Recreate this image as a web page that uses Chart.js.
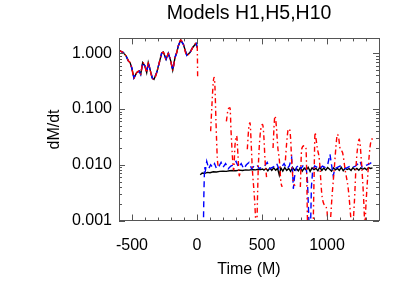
<!DOCTYPE html>
<html>
<head>
<meta charset="utf-8">
<script src="https://cdn.jsdelivr.net/npm/chart.js@4.4.1/dist/chart.umd.min.js"></script>
<style>
  html, body { margin: 0; padding: 0; background: #fff; }
</style>
</head>
<body>
<canvas id="dmdt" width="415" height="297"></canvas>
<script>
// before merger the three models overlap
const preTime = [-600, -585, -567, -546, -528, -515, -502, -485, -464, -444,
    -433, -418, -400, -387, -375, -362, -344, -331, -310, -290,
    -272, -259, -238, -221, -202, -187, -169, -156, -144, -125,
    -105, -79, -54, -33, -8, 2];
const preRate = [1.15, 1.08, 1.03, 0.9, 0.73, 0.68, 0.55, 0.36, 0.45, 0.48,
    0.42, 0.68, 0.59, 0.45, 0.68, 0.52, 0.36, 0.34, 0.45, 0.68,
    1.0, 1.05, 0.78, 1.0, 0.73, 0.5, 0.84, 1.03, 1.35, 1.73,
    1.45, 0.92, 1.03, 1.27, 1.5, 1.27];

// black, solid
const h1Time = [10, 25, 40, 60, 80, 100, 125, 150, 175, 200,
    225, 250, 275, 300, 325, 350, 375, 400, 425, 450,
    470, 490, 505, 515, 530, 545, 560, 575, 590, 605,
    620, 633, 645, 660, 675, 690, 705, 720, 735, 750,
    765, 780, 795, 810, 825, 840, 855, 870, 885, 900,
    915, 930, 945, 960, 975, 990, 1005, 1020, 1035, 1050,
    1065, 1080, 1095, 1110, 1125, 1140, 1155, 1170, 1185, 1200,
    1215, 1230, 1245, 1260, 1275, 1290, 1305, 1320, 1335, 1350];
const h1Rate = [null, 0.0066, 0.0071, 0.0070, 0.0073, 0.0072, 0.0075, 0.0074, 0.0076, 0.0077,
    0.0076, 0.0078, 0.0079, 0.0078, 0.0080, 0.0079, 0.0081, 0.0080, 0.0082, 0.0081,
    0.0083, 0.0082, 0.0084, 0.0080, 0.0086, 0.0078, 0.0087, 0.0079, 0.0088, 0.0080,
    0.0086, 0.0065, 0.0088, 0.0077, 0.0089, 0.0079, 0.0086, 0.0076, 0.0090, 0.0080,
    0.0085, 0.0078, 0.0089, 0.0077, 0.0087, 0.0081, 0.0090, 0.0076, 0.0088, 0.0082,
    0.0086, 0.0078, 0.0091, 0.0079, 0.0087, 0.0080, 0.0089, 0.0083, 0.0077, 0.0088,
    0.0081, 0.0086, 0.0079, 0.0090, 0.0078, 0.0087, 0.0082, 0.0085, 0.0079, 0.0089,
    0.0081, 0.0086, 0.0080, 0.0088, 0.0083, 0.0087, 0.0081, 0.0089, 0.0086, 0.0088];

// blue, dashed
const h5Time = [20, 48, 53, 58, 65, 75, 90, 105, 120, 135,
    150, 170, 185, 200, 220, 240, 260, 280, 300, 320,
    340, 360, 380, 400, 420, 440, 460, 480, 500, 520,
    540, 560, 580, 600, 613, 630, 650, 670, 690, 710,
    728, 735, 741, 750, 765, 785, 800, 820, 840, 850,
    858, 865, 872, 880, 890, 905, 925, 945, 965, 985,
    1005, 1023, 1035, 1048, 1060, 1080, 1100, 1120, 1140, 1160,
    1180, 1200, 1220, 1240, 1254, 1270, 1290, 1310, 1330, 1344,
    1352];
const h5Rate = [null, 0.0005, 0.003, 0.009, 0.008, 0.0115, 0.0085, 0.01, 0.009, 0.0105,
    0.0085, 0.0095, 0.011, 0.009, 0.0105, 0.0085, 0.0095, 0.01, 0.0115, 0.009,
    0.0105, 0.0085, 0.01, 0.011, 0.0085, 0.0095, 0.01, 0.0085, 0.009, 0.0095,
    0.011, 0.0085, 0.009, 0.0095, 0.0105, 0.0085, 0.009, 0.0105, 0.0085, 0.0095,
    0.0134, 0.008, 0.0037, 0.006, 0.009, 0.01, 0.0085, 0.01, 0.009, 0.005,
    0.0015, 0.0005, 0.0005, 0.004, 0.008, 0.0095, 0.009, 0.0085, 0.0095, 0.009,
    0.01, 0.0154, 0.01, 0.0063, 0.0085, 0.009, 0.0095, 0.009, 0.0085, 0.009,
    0.0095, 0.009, 0.0095, 0.0105, 0.0116, 0.009, 0.0095, 0.01, 0.0105, 0.011,
    0.01];

// red, dash-dot
const h10Time = [5, 8, 105, 115, 125, 131, 138, 146, 156, 164,
    170, 226, 240, 254, 262, 274, 282, 292, 305, 315,
    325, 331, 340, 387, 398, 408, 415, 425, 440, 459,
    466, 471, 485, 505, 515, 523, 535, 545, 585, 595,
    600, 610, 622, 633, 646, 655, 665, 680, 690, 702,
    710, 720, 728, 741, 754, 770, 795, 805, 823, 838,
    845, 849, 855, 890, 900, 908, 915, 925, 941, 960,
    975, 1000, 1008, 1020, 1040, 1055, 1068, 1080, 1090, 1100,
    1120, 1140, 1164, 1182, 1192, 1210, 1223, 1235, 1248, 1257,
    1267, 1280, 1292, 1300, 1310, 1325, 1336, 1350];
const h10Rate = [0.37, null, 0.04, 0.12, 0.3, 0.37, 0.25, 0.06, 0.0134, 0.009,
    null, 0.06, 0.1, 0.106, 0.04, 0.0125, 0.008, 0.022, 0.033, 0.015,
    0.0063, 0.007, null, 0.019, 0.045, 0.057, 0.03, 0.009, 0.003, 0.0007,
    0.003, 0.0083, 0.033, 0.053, 0.03, 0.0125, 0.006, null, 0.02, 0.06,
    0.075, 0.05, 0.02, 0.0125, 0.0048, 0.004, null, 0.012, 0.025, 0.043,
    0.044, 0.03, 0.012, 0.005, 0.0042, null, 0.004, 0.019, 0.022, 0.02,
    0.005, 0.0012, 0.0005, 0.0005, 0.005, 0.038, 0.03, 0.02, 0.0125, 0.003,
    0.002, 0.0015, 0.0008, 0.0008, 0.003, 0.008, 0.02, 0.035, 0.03, 0.02,
    0.0164, 0.008, 0.0036, 0.0012, 0.0006, 0.002, 0.009, 0.02, 0.029, 0.02,
    0.0095, 0.003, 0.0009, 0.002, 0.0048, 0.015, 0.025, 0.03];

const xTicks = [-500, 0, 500, 1000];
const xTickLabels = ['-500', '0', '500', '1000'];
const yTicks = [0.001, 0.01, 0.1, 1];
const yTickLabels = ['0.001', '0.010', '0.100', '1.000'];

function points(times, rates) {
    return times.map((t, i) => ({ x: t, y: rates[i] }));
}

const labelFont = { family: 'Liberation Sans', size: 16, weight: 'normal' };

// IDL style box with inward ticks on all four sides
const frameTicks = {
    id: 'frameTicks',
    afterDraw(chart) {
        const { ctx, chartArea: a, scales: { x, y } } = chart;
        ctx.save();
        ctx.strokeStyle = '#555';
        ctx.lineWidth = 1;
        ctx.strokeRect(Math.round(a.left) + 0.5, Math.round(a.top) + 0.5,
            Math.round(a.right - a.left), Math.round(a.bottom - a.top));
        ctx.beginPath();
        for (let t = x.min; t <= x.max; t += 100) {
            const px = Math.round(x.getPixelForValue(t)) + 0.5;
            const len = xTicks.includes(t) ? 6 : 3;
            ctx.moveTo(px, a.bottom); ctx.lineTo(px, a.bottom - len);
            ctx.moveTo(px, a.top); ctx.lineTo(px, a.top + len);
        }
        yTicks.forEach(d => {
            for (let m = 1; m <= 9; m++) {
                const v = d * m;
                if (v > y.max) break;
                const py = Math.round(y.getPixelForValue(v)) + 0.5;
                const len = m === 1 ? 6 : 3;
                ctx.moveTo(a.left, py); ctx.lineTo(a.left + len, py);
                ctx.moveTo(a.right, py); ctx.lineTo(a.right - len, py);
            }
        });
        ctx.stroke();
        ctx.restore();
    }
};

new Chart(document.getElementById('dmdt'), {
    type: 'line',
    data: {
        datasets: [{
            label: 'H1',
            data: points(preTime.concat(h1Time), preRate.concat(h1Rate)),
            borderColor: '#000000',
            borderWidth: 1.4,
            order: 3
        }, {
            label: 'H5',
            data: points(preTime.concat(h5Time), preRate.concat(h5Rate)),
            borderColor: '#0000ff',
            borderWidth: 1.4,
            borderDash: [6, 4],
            order: 2
        }, {
            label: 'H10',
            data: points(preTime.concat(h10Time), preRate.concat(h10Rate)),
            borderColor: '#ff0000',
            borderWidth: 1.4,
            borderDash: [5, 3, 1.5, 3],
            cubicInterpolationMode: 'monotone',
            order: 1
        }]
    },
    options: {
        responsive: false,
        animation: false,
        layout: { padding: { left: 0, right: 36, top: 0, bottom: 0 } },
        elements: {
            point: { radius: 0 },
            line: { tension: 0, fill: false }
        },
        plugins: {
            legend: { display: false },
            tooltip: { enabled: false },
            title: {
                display: true,
                fullSize: false,
                text: 'Models H1,H5,H10',
                color: '#000',
                font: { family: 'Liberation Sans', size: 19.5, weight: 'normal' },
                padding: { top: 2, bottom: 13 }
            }
        },
        scales: {
            x: {
                type: 'linear',
                min: -600,
                max: 1400,
                afterBuildTicks: s => { s.ticks = xTicks.map(v => ({ value: v })); },
                afterFit: s => { s.height = 76.5; },
                ticks: {
                    color: '#000', font: labelFont, padding: 15, maxRotation: 0, autoSkip: false,
                    callback: (v, i) => xTickLabels[i]
                },
                grid: { display: false, drawTicks: false },
                border: { display: false },
                title: { display: true, text: 'Time (M)', color: '#000', font: labelFont, padding: { top: 0, bottom: 18 } }
            },
            y: {
                type: 'logarithmic',
                min: 0.001,
                max: 1.85,
                afterBuildTicks: s => { s.ticks = yTicks.map(v => ({ value: v })); },
                afterFit: s => { s.width = 119; },
                ticks: {
                    color: '#000', font: labelFont, padding: 7, autoSkip: false,
                    callback: (v, i) => yTickLabels[i]
                },
                grid: { display: false, drawTicks: false },
                border: { display: false },
                title: { display: true, text: 'dM/dt', color: '#000', font: labelFont, padding: { top: 45, bottom: 0 } }
            }
        }
    },
    plugins: [frameTicks]
});
</script>
</body>
</html>
